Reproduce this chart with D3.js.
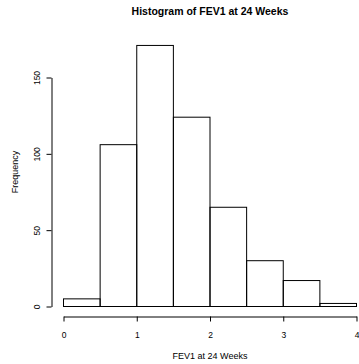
<!DOCTYPE html>
<html>
<head>
<meta charset="utf-8">
<script src="https://cdn.jsdelivr.net/npm/d3@7"></script>
<style>
  body { margin: 0; background: #fff; }
  text { font-family: "Liberation Sans", Arial, Helvetica, sans-serif; fill: #000; }
</style>
</head>
<body>
<div class="chart"></div>
<script>
// histogram bins and counts
var binStarts = [0, 0.5, 1, 1.5, 2, 2.5, 3, 3.5];
var binWidth = 0.5;
var counts = [5, 106, 171, 124, 65, 30, 17, 2];
var xTicks = [0, 1, 2, 3, 4];
var yTicks = [0, 50, 100, 150];

var width = 359;
var height = 364;

var xScale = d3.scaleLinear()
    .domain([0, 4])
    .range([63.5, 356.5]);

var yScale = d3.scaleLinear()
    .domain([0, 150])
    .range([306.5, 77.5]);

var svg = d3.select('.chart').append('svg')
    .attr('width', width)
    .attr('height', height);

svg.append('g')
    .selectAll('rect')
    .data(counts)
    .enter().append('rect')
    .attr('x', (d, i) => xScale(binStarts[i]))
    .attr('y', d => yScale(d))
    .attr('width', (d, i) => xScale(binStarts[i] + binWidth) - xScale(binStarts[i]))
    .attr('height', d => yScale(0) - yScale(d))
    .style('fill', 'none')
    .style('stroke', '#000')
    .style('stroke-width', 1);

// R style axes: line only between first and last tick
var xAxis = svg.append('g')
    .attr('transform', 'translate(0,316.5)')
    .call(d3.axisBottom(xScale).tickValues(xTicks).tickFormat(d3.format('d'))
        .tickSize(5).tickSizeOuter(0).tickPadding(10));
xAxis.selectAll('text').style('font-size', '8.5px');

var yAxis = svg.append('g')
    .attr('transform', 'translate(51.5,0)')
    .call(d3.axisLeft(yScale).tickValues(yTicks).tickFormat(d3.format('d'))
        .tickSize(5).tickSizeOuter(0));
yAxis.selectAll('text')
    .attr('x', null)
    .attr('dy', null)
    .attr('text-anchor', 'middle')
    .attr('transform', 'translate(-12,0) rotate(-90)')
    .style('font-size', '8.5px');

svg.selectAll('.domain, .tick line').style('stroke', '#000');

svg.append('text')
    .attr('x', 210)
    .attr('y', 15)
    .attr('text-anchor', 'middle')
    .style('font-size', '10.5px')
    .style('font-weight', 'bold')
    .text('Histogram of FEV1 at 24 Weeks');

svg.append('text')
    .attr('x', 210)
    .attr('y', 359)
    .attr('text-anchor', 'middle')
    .style('font-size', '9px')
    .text('FEV1 at 24 Weeks');

svg.append('text')
    .attr('transform', 'translate(17.5,172) rotate(-90)')
    .attr('text-anchor', 'middle')
    .style('font-size', '9px')
    .text('Frequency');
</script>
</body>
</html>
